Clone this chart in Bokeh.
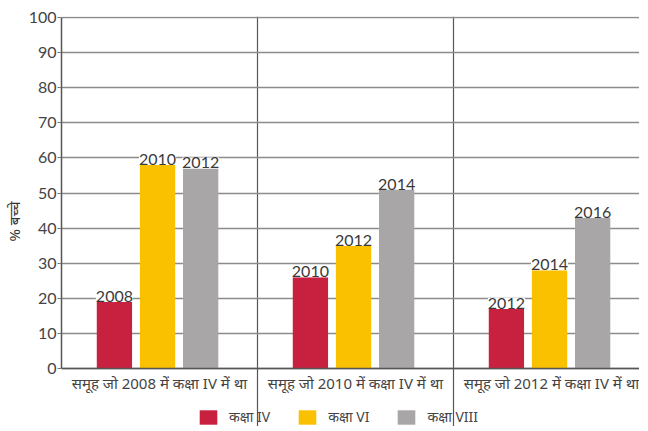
import numpy as np
from bokeh.plotting import figure
from bokeh.models import (ColumnDataSource, Range1d, FixedTicker, LabelSet,
                          Legend, LegendItem, Span)
from bokeh.core.properties import value
from bokeh.transform import dodge
from bokeh.embed import file_html
from bokeh.resources import INLINE

groups = ["समूह जो 2008 में कक्षा IV में था",
          "समूह जो 2010 में कक्षा IV में था",
          "समूह जो 2012 में कक्षा IV में था"]
series_names = ["कक्षा IV", "कक्षा VI", "कक्षा VIII"]
class_iv = [19, 26, 17]
class_vi = [58, 35, 28]
class_viii = [57, 51, 43]
years_iv = ["2008", "2010", "2012"]
years_vi = ["2010", "2012", "2014"]
years_viii = ["2012", "2014", "2016"]
y_ticks = list(range(0, 101, 10))

colors = ["#C8203F", "#F9C100", "#A8A6A6"]
offsets = [-0.23, -0.01, 0.21]
FONT = "Lato"
DEV = "Noto Sans"

centers = [i + 0.5 for i in range(len(groups))]

p = figure(frame_width=578, frame_height=410, output_backend="svg",
           toolbar_location=None,
           x_range=Range1d(0, 2.949), y_range=Range1d(-16.5, 100.3),
           min_border_left=54, min_border_right=0, min_border_top=16,
           min_border_bottom=0)
p.outline_line_color = None

# grid
p.ygrid.ticker = FixedTicker(ticks=y_ticks)
p.ygrid.grid_line_color = "#8c8c8c"
p.ygrid.grid_line_width = 1.3
p.xgrid.ticker = FixedTicker(ticks=[1, 2])
p.xgrid.grid_line_color = "#555555"
p.xgrid.grid_line_width = 1.2
p.xgrid.bounds = (0, 100)

items = []
for vals, yrs, name, col, off in zip([class_iv, class_vi, class_viii],
                                     [years_iv, years_vi, years_viii],
                                     series_names, colors, offsets):
    src = ColumnDataSource(dict(x=centers, top=vals, year=yrs))
    r = p.vbar(x=dodge("x", off), top="top", bottom=0, width=0.18, source=src,
               fill_color=col, line_color=None)
    items.append(LegendItem(label=name, renderers=[r]))
    lab = LabelSet(x=dodge("x", off), y="top", text="year", source=src,
                   text_align="center", text_baseline="bottom", y_offset=0,
                   text_font=value(FONT), text_font_size="16px",
                   text_color="#3a3a3a",
                   background_fill_color="white", background_fill_alpha=1.0)
    p.add_layout(lab)

# bottom axis line and group labels
p.add_layout(Span(location=0, dimension="width", line_color="#555555",
                  line_width=1.5))
gsrc = ColumnDataSource(dict(x=centers, y=[0] * len(centers), name=groups))
p.add_layout(LabelSet(x="x", y="y", text="name", source=gsrc, y_offset=-4,
                      text_align="center", text_baseline="top",
                      text_font=value(DEV), text_font_size="15px",
                      text_color="#444444"))
p.xaxis.visible = False

# y axis
p.yaxis.ticker = FixedTicker(ticks=y_ticks)
p.yaxis.bounds = (0, 100)
p.yaxis.major_label_text_font = FONT
p.yaxis.major_label_text_font_size = "16px"
p.yaxis.major_label_text_color = "#444444"
p.yaxis.major_tick_out = 4
p.yaxis.major_tick_in = 0
p.yaxis.minor_tick_line_color = None
p.yaxis.major_tick_line_color = "#777777"
p.yaxis.axis_line_color = "#555555"
p.yaxis.axis_line_width = 1.5
p.yaxis.major_label_standoff = 1
p.yaxis.axis_label = "% बच्चे"
p.yaxis.axis_label_text_font = DEV
p.yaxis.axis_label_text_font_style = "normal"
p.yaxis.axis_label_text_font_size = "15px"
p.yaxis.axis_label_text_color = "#333333"
p.yaxis.axis_label_standoff = 2

legend = Legend(items=items, orientation="horizontal", location=(136, 0),
                glyph_width=22, glyph_height=18, label_standoff=10, spacing=26,
                label_text_font=DEV, label_text_font_size="14px",
                label_text_color="#444444", border_line_color=None,
                background_fill_alpha=0,
                padding=0, margin=0, label_height=18)
p.add_layout(legend)

open("out.html", "w").write(file_html(p, INLINE))
